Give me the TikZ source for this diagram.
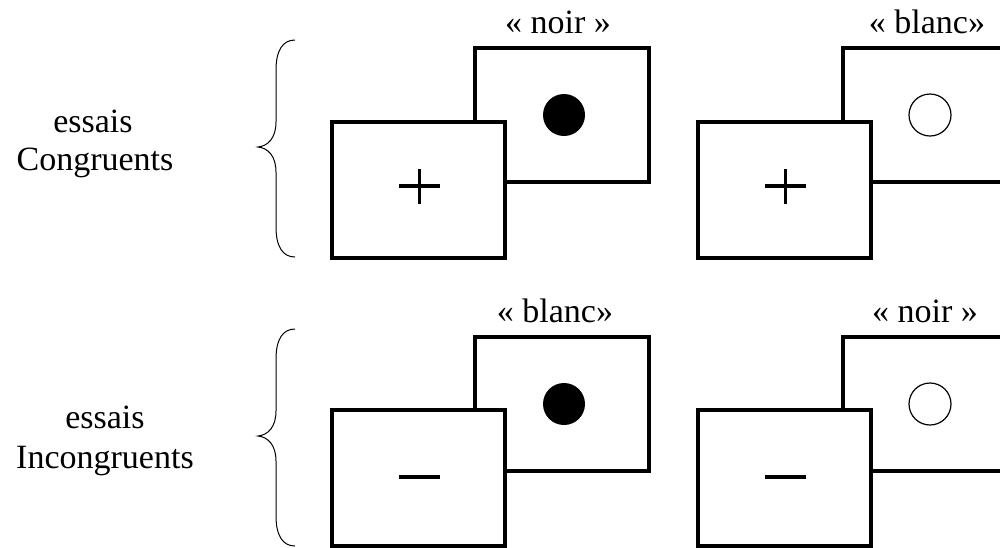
\documentclass[tikz,border=0pt]{standalone}
\usepackage{fontspec}
\setmainfont{Liberation Serif}
\begin{document}
\begin{tikzpicture}[x=1pt,y=-1pt,
  txt/.style={anchor=base,inner sep=0pt,font=\fontsize{34}{39}\selectfont},
  backbox/.style={draw,line width=3.4pt,fill=white,minimum width=174pt,minimum height=134pt,inner sep=0pt},
  frontbox/.style={draw,line width=3.4pt,fill=white,minimum width=173pt,minimum height=136pt,inner sep=0pt},
  sign/.style={line width=3.4pt},
  brace/.style={line width=1pt},
  dotfull/.style={fill=black},
  dotempty/.style={draw,line width=1.2pt,fill=white}]
\useasboundingbox (0,0) rectangle (1000,547);
\clip (0,0) rectangle (1000,547);
% left labels
\node[txt] (e1) at (93,132) {essais};
\node[txt] (c1) at (95,170) {Congruents};
\node[txt] (e2) at (105,428) {essais};
\node[txt] (c2) at (105,468) {Incongruents};
% braces
\foreach \dy/\nm in {0/b1,289/b2}{
\draw[brace] (295,40+\dy) .. controls (283,40+\dy) and (276,50+\dy) .. (276,70+\dy)
  -- (276,122+\dy) .. controls (276,138+\dy) and (268,146+\dy) .. (258,147+\dy)
  .. controls (268,148+\dy) and (276,156+\dy) .. (276,172+\dy)
  -- (276,227+\dy) .. controls (276,247+\dy) and (283,257+\dy) .. (295,257+\dy);
}
% top row, pair 1
\node[txt] (l11) at (558,33) {« noir »};
\node[backbox] (bk11) at (562,115) {};
\fill[dotfull] (564,115) circle (21);
\node[frontbox] (fr11) at (418.5,190) {};
\draw[sign] (399,186) -- (440,186) (419.5,169) -- (419.5,204);
% top row, pair 2
\node[txt] (l12) at (927,33) {« blanc»};
\node[backbox] (bk12) at (930,115) {};
\draw[dotempty] (930,115) circle (21);
\node[frontbox] (fr12) at (784.5,190) {};
\draw[sign] (765,186) -- (806,186) (785.5,169) -- (785.5,204);
% bottom row, pair 1
\node[txt] (l21) at (555,322) {« blanc»};
\node[backbox] (bk21) at (562,404) {};
\fill[dotfull] (564,404) circle (21);
\node[frontbox] (fr21) at (418.5,478) {};
\draw[sign] (399,477) -- (440,477);
% bottom row, pair 2
\node[txt] (l22) at (925,322) {« noir »};
\node[backbox] (bk22) at (930,404) {};
\draw[dotempty] (930,404) circle (21);
\node[frontbox] (fr22) at (784.5,478) {};
\draw[sign] (765,477) -- (806,477);
\end{tikzpicture}
\end{document}
